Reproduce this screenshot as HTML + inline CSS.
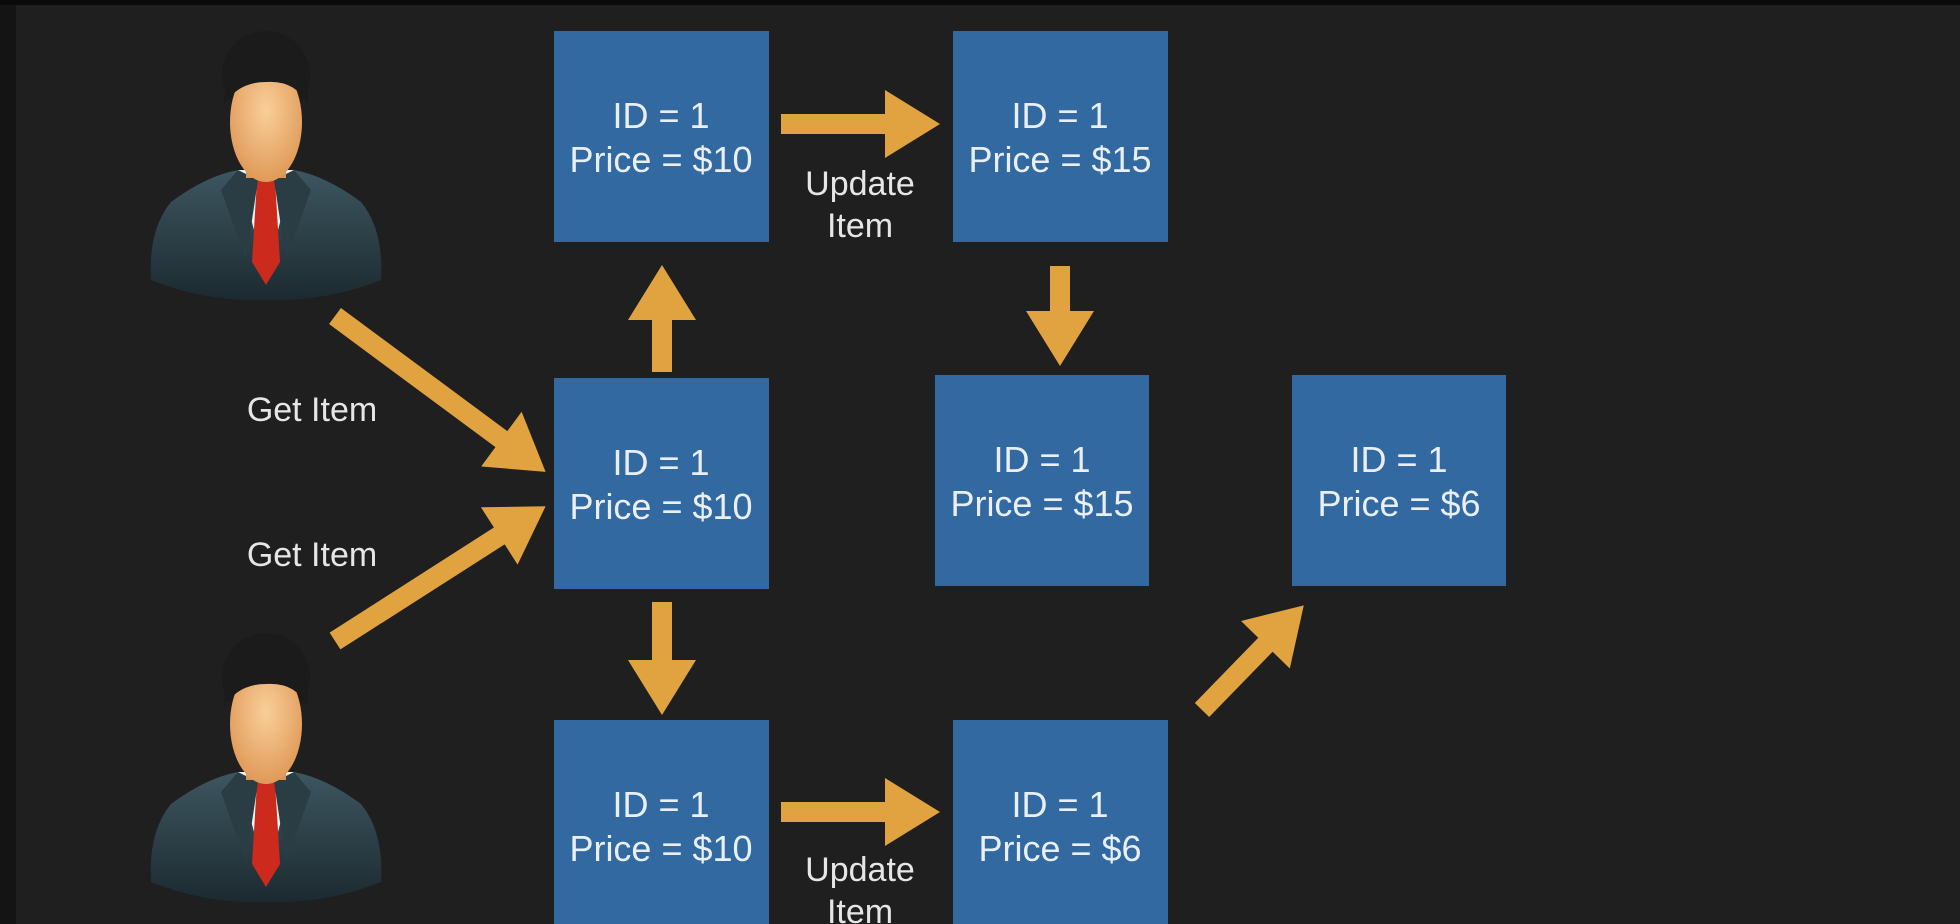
<!DOCTYPE html>
<html><head><meta charset="utf-8"><style>
html,body{margin:0;padding:0;width:1960px;height:924px;overflow:hidden;background:#1f1f1f;}
svg{display:block}
text{font-family:"Liberation Sans",sans-serif;}
</style></head><body>
<svg width="1960" height="924" viewBox="0 0 1960 924" xmlns="http://www.w3.org/2000/svg">
<defs>
<linearGradient id="suit" x1="0" y1="0" x2="0" y2="1"><stop offset="0" stop-color="#3d5660"/><stop offset="1" stop-color="#1c2a30"/></linearGradient>
<radialGradient id="face" cx="0.5" cy="0.4" r="0.6"><stop offset="0" stop-color="#f9cf9a"/><stop offset="1" stop-color="#e09a58"/></radialGradient>
<g id="person">
 <path d="M-115 250 Q-118 200 -95 172 Q-60 146 -28 140 L28 140 Q60 146 95 172 Q118 200 115 250 Q60 272 0 270 Q-60 272 -115 250 Z" fill="url(#suit)"/>
 <polygon points="-28,140 28,140 0,245" fill="#f2f2f2"/>
 <polygon points="-9,150 9,150 14,232 0,255 -14,232" fill="#cc2a1c"/>
 <polygon points="-28,140 -8,150 -20,230 -45,160" fill="#2a3c44"/>
 <polygon points="28,140 8,150 20,230 45,160" fill="#2a3c44"/>
 <rect x="-20" y="110" width="40" height="38" fill="#d89658"/>
 <ellipse cx="0" cy="45" rx="44" ry="44" fill="#1b1b1b"/>
 <ellipse cx="0" cy="92" rx="36" ry="60" fill="url(#face)"/>
 <path d="M-42 75 Q-40 15 5 12 Q42 15 42 75 Q30 50 0 52 Q-28 52 -42 75Z" fill="#1b1b1b"/>
</g>
</defs>
<rect x="0" y="0" width="16" height="924" fill="#141414"/>
<rect x="0" y="0" width="1960" height="5" fill="#0a0a0a"/>

<use href="#person" x="266" y="30"/>
<use href="#person" x="266" y="632"/>

<g fill="#3169a0">
<rect x="554" y="31" width="215" height="211"/>
<rect x="953" y="31" width="215" height="211"/>
<rect x="554" y="378" width="215" height="211"/>
<rect x="935" y="375" width="214" height="211"/>
<rect x="1292" y="375" width="214" height="211"/>
<rect x="554" y="720" width="215" height="210"/>
<rect x="953" y="720" width="215" height="210"/>
</g>

<g fill="#e9eff5" font-size="36" text-anchor="middle">
<text x="661" y="128">ID = 1</text><text x="661" y="172">Price = $10</text>
<text x="1060" y="128">ID = 1</text><text x="1060" y="172">Price = $15</text>
<text x="661" y="475">ID = 1</text><text x="661" y="519">Price = $10</text>
<text x="1042" y="472">ID = 1</text><text x="1042" y="516">Price = $15</text>
<text x="1399" y="472">ID = 1</text><text x="1399" y="516">Price = $6</text>
<text x="661" y="817">ID = 1</text><text x="661" y="861">Price = $10</text>
<text x="1060" y="817">ID = 1</text><text x="1060" y="861">Price = $6</text>
</g>
<g fill="#e6e6e6" font-size="34" text-anchor="middle">
<text x="860" y="195">Update</text><text x="860" y="237">Item</text>
<text x="860" y="881">Update</text><text x="860" y="923">Item</text>
<text x="312" y="421">Get Item</text>
<text x="312" y="566">Get Item</text>
</g>

<g fill="#e0a33f">
<polygon transform="translate(781,124)" points="0,-10 104,-10 104,-34 159,0 104,34 104,10 0,10"/>
<polygon transform="translate(781,812)" points="0,-10 104,-10 104,-34 159,0 104,34 104,10 0,10"/>
<polygon transform="translate(662,372) rotate(-90)" points="0,-10 52,-10 52,-34 107,0 52,34 52,10 0,10"/>
<polygon transform="translate(1060,266) rotate(90)" points="0,-10 45,-10 45,-34 100,0 45,34 45,10 0,10"/>
<polygon transform="translate(662,602) rotate(90)" points="0,-10 58,-10 58,-34 113,0 58,34 58,10 0,10"/>
<polygon transform="translate(1202,710) rotate(-45.8)" points="0,-10 91,-10 91,-34 146,0 91,34 91,10 0,10"/>
<polygon transform="translate(335,316) rotate(36.5)" points="0,-10 207,-10 207,-34 262,0 207,34 207,10 0,10"/>
<polygon transform="translate(335,641) rotate(-32.6)" points="0,-10 195,-10 195,-34 250,0 195,34 195,10 0,10"/>
</g>
</svg>
</body></html>
